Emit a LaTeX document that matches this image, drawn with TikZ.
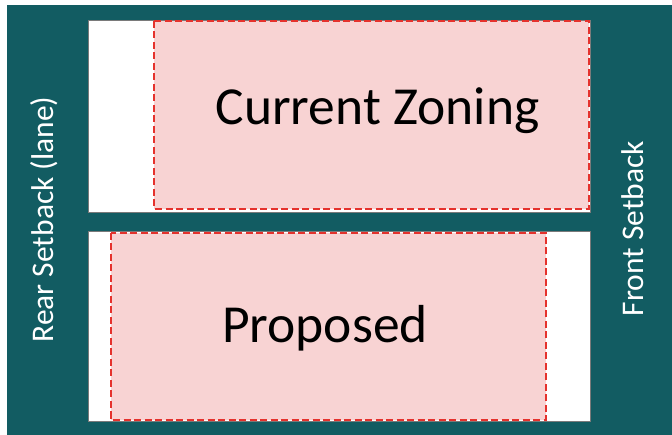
\documentclass[tikz,border=0pt]{standalone}
\usepackage{fontspec}
\setmainfont{Carlito}
\definecolor{teal}{HTML}{125C62}
\definecolor{pinkfill}{HTML}{F8D3D3}
\definecolor{reddash}{HTML}{E5322D}
\definecolor{edgegray}{HTML}{7A7A7A}
\begin{document}
\begin{tikzpicture}[x=1pt,y=-1pt,
  lot/.style={fill=white,draw=edgegray,line width=0.8pt},
  zone/.style={fill=pinkfill,draw=reddash,line width=2.2pt,dash pattern=on 7pt off 3.5pt},
  bigtext/.style={text=black,font=\fontsize{53.5}{62}\selectfont,inner sep=0pt},
  sidetext/.style={text=white,font=\fontsize{31.5}{36}\selectfont,inner sep=0pt,rotate=90}]
\useasboundingbox (0,0) rectangle (672,435);
\fill[white] (0,0) rectangle (672,435);
\fill[teal] (7,5) rectangle (672,435);
% top lot
\draw[lot] (88,20) rectangle (590,212);
\draw[zone] (154,21) rectangle (589,209);
% bottom lot
\draw[lot] (88,231) rectangle (590,421);
\draw[zone] (111,233) rectangle (546,420);
\node[bigtext,anchor=base] (cz) at (377.5,125) {Current Zoning};
\node[bigtext,anchor=base] (pr) at (325,343) {Proposed};
\node[sidetext,anchor=base] (rear) at (53,219.5) {Rear Setback (lane)};
\node[sidetext,anchor=base] (front) at (643,228.5) {Front Setback};
\end{tikzpicture}
\end{document}
